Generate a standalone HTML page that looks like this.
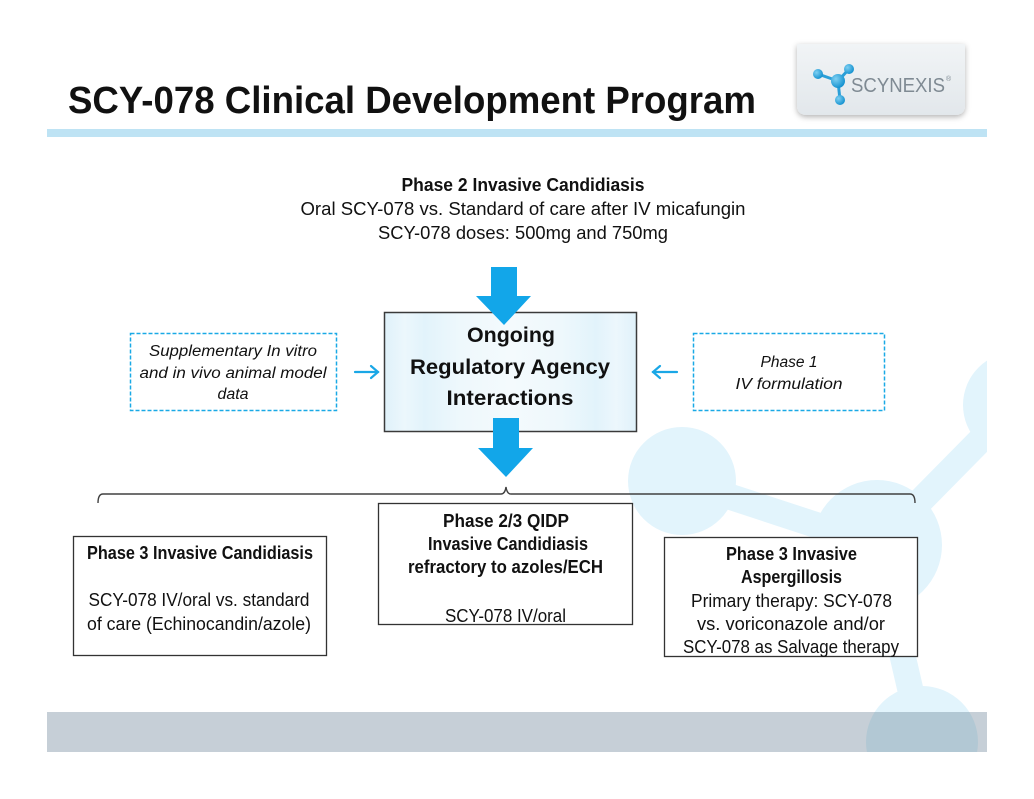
<!DOCTYPE html>
<html><head><meta charset="utf-8"><style>
html,body{margin:0;padding:0;background:#fff;}
svg{display:block;}
text{font-family:"Liberation Sans",Arial,sans-serif;fill:#111;}
.b{font-weight:bold;}
.i{font-style:italic;}
</style></head><body>
<svg width="1034" height="799" viewBox="0 0 1034 799" xmlns="http://www.w3.org/2000/svg">
<defs>
<clipPath id="slide"><rect x="47" y="0" width="940" height="752"/></clipPath>
<clipPath id="band"><rect x="47" y="712" width="940" height="40"/></clipPath>
<linearGradient id="cb" x1="0" x2="1" y1="0" y2="0">
<stop offset="0" stop-color="#dff1fa"/><stop offset="0.08" stop-color="#ecf7fc"/>
<stop offset="0.16" stop-color="#e2f3fb"/><stop offset="0.3" stop-color="#eef8fc"/>
<stop offset="0.5" stop-color="#f4fafd"/><stop offset="0.7" stop-color="#eef8fc"/>
<stop offset="0.84" stop-color="#e2f3fb"/><stop offset="0.92" stop-color="#ecf7fc"/>
<stop offset="1" stop-color="#dff1fa"/></linearGradient>
<linearGradient id="lg" x1="0" x2="0" y1="0" y2="1">
<stop offset="0" stop-color="#f1f4f6"/><stop offset="1" stop-color="#e2e7eb"/></linearGradient>
<radialGradient id="ball" cx="0.35" cy="0.35" r="0.7">
<stop offset="0" stop-color="#7fd0f2"/><stop offset="1" stop-color="#1190cf"/></radialGradient>
<filter id="sh" x="-20%" y="-20%" width="140%" height="160%"><feDropShadow dx="0" dy="2" stdDeviation="3" flood-color="#000" flood-opacity="0.3"/></filter>
</defs>

<!-- background molecule -->
<g clip-path="url(#slide)" fill="#e2f4fc" stroke="#e2f4fc">
<line x1="682" y1="481" x2="877" y2="545" stroke-width="26"/>
<line x1="1015" y1="405" x2="877" y2="545" stroke-width="26"/>
<line x1="877" y1="545" x2="922" y2="740" stroke-width="26"/>
<circle cx="682" cy="481" r="54" stroke="none"/>
<circle cx="877" cy="545" r="65" stroke="none"/>
<circle cx="1016" cy="405" r="53" stroke="none"/>
<circle cx="922" cy="742" r="56" stroke="none"/>
</g>
<!-- bottom band -->
<rect x="47" y="712" width="940" height="40" fill="#c6cfd7"/>
<g clip-path="url(#band)" fill="#b2c8d4">
<circle cx="922" cy="742" r="56"/>
</g>

<!-- title -->
<text x="68" y="113" class="b" font-size="38" textLength="688" lengthAdjust="spacingAndGlyphs">SCY-078 Clinical Development Program</text>
<rect x="47" y="129" width="940" height="8" fill="#bee3f4"/>

<!-- logo -->
<path d="M797,44 H965 V105 Q965,115 955,115 H807 Q797,115 797,105 Z" fill="url(#lg)" filter="url(#sh)"/>
<g stroke="#2a9fd8" stroke-width="3">
<line x1="818" y1="74" x2="838" y2="81"/><line x1="849" y1="69" x2="838" y2="81"/><line x1="840" y1="100" x2="838" y2="81"/>
</g>
<circle cx="838" cy="81" r="7" fill="url(#ball)"/>
<circle cx="818" cy="74" r="5" fill="url(#ball)"/>
<circle cx="849" cy="69" r="5" fill="url(#ball)"/>
<circle cx="840" cy="100" r="5" fill="url(#ball)"/>
<text x="851" y="92" font-size="20" style="fill:#7f8a93" textLength="94" lengthAdjust="spacingAndGlyphs">SCYNEXIS</text>
<text x="946" y="81" font-size="7" style="fill:#7f8a93">®</text>

<!-- top text -->
<text x="523" y="191" class="b" font-size="18" text-anchor="middle" textLength="243" lengthAdjust="spacingAndGlyphs">Phase 2 Invasive Candidiasis</text>
<text x="523" y="215" font-size="18" text-anchor="middle" textLength="445" lengthAdjust="spacingAndGlyphs">Oral SCY-078 vs. Standard of care after IV micafungin</text>
<text x="523" y="239" font-size="18" text-anchor="middle" textLength="290" lengthAdjust="spacingAndGlyphs">SCY-078 doses: 500mg and 750mg</text>

<!-- center box -->
<rect x="384.5" y="312.5" width="252" height="119" fill="url(#cb)" stroke="#3a3a3a" stroke-width="1.5"/>
<text x="511" y="342" class="b" font-size="21" text-anchor="middle" textLength="88" lengthAdjust="spacingAndGlyphs">Ongoing</text>
<text x="510" y="374" class="b" font-size="21" text-anchor="middle" textLength="200" lengthAdjust="spacingAndGlyphs">Regulatory Agency</text>
<text x="510" y="405" class="b" font-size="21" text-anchor="middle" textLength="127" lengthAdjust="spacingAndGlyphs">Interactions</text>

<!-- big arrows -->
<polygon points="491,267 517,267 517,296 531,296 504,325 476,296 491,296" fill="#12a6e9"/>
<polygon points="493,418 519,418 519,448 533,448 506,477 478,448 493,448" fill="#12a6e9"/>

<!-- dashed boxes -->
<rect x="130.5" y="333.5" width="206" height="77" fill="#fff" stroke="#1aa9e6" stroke-width="1.5" stroke-dasharray="4,2"/>
<text x="233" y="356" class="i" font-size="15.5" text-anchor="middle" textLength="168" lengthAdjust="spacingAndGlyphs">Supplementary In vitro</text>
<text x="233" y="378" class="i" font-size="15.5" text-anchor="middle" textLength="187" lengthAdjust="spacingAndGlyphs">and in vivo animal model</text>
<text x="233" y="399" class="i" font-size="15.5" text-anchor="middle" textLength="31" lengthAdjust="spacingAndGlyphs">data</text>

<rect x="693.5" y="333.5" width="191" height="77" fill="#fff" stroke="#1aa9e6" stroke-width="1.5" stroke-dasharray="4,2"/>
<text x="789" y="367" class="i" font-size="15.5" text-anchor="middle" textLength="57" lengthAdjust="spacingAndGlyphs">Phase 1</text>
<text x="789" y="389" class="i" font-size="15.5" text-anchor="middle" textLength="107" lengthAdjust="spacingAndGlyphs">IV formulation</text>

<!-- small arrows -->
<g stroke="#1aa7e6" stroke-width="2.2" fill="none" stroke-linecap="round">
<line x1="355" y1="372" x2="378" y2="372"/><polyline points="371,366 378,372 371,378"/>
<line x1="653" y1="372" x2="677" y2="372"/><polyline points="660,366 653,372 660,378"/>
</g>

<!-- bracket -->
<path d="M98,503 Q98,494 103,494 L501,494 Q505,494 506,487 Q507,494 511,494 L910,494 Q915,494 915,503" fill="none" stroke="#404040" stroke-width="1.4"/>

<!-- bottom boxes -->
<rect x="73.5" y="536.5" width="253" height="119" fill="#fff" stroke="#333" stroke-width="1.3"/>
<text x="200" y="559" class="b" font-size="18" text-anchor="middle" textLength="226" lengthAdjust="spacingAndGlyphs">Phase 3 Invasive Candidiasis</text>
<text x="199" y="606" font-size="18" text-anchor="middle" textLength="221" lengthAdjust="spacingAndGlyphs">SCY-078 IV/oral vs. standard</text>
<text x="199" y="630" font-size="18" text-anchor="middle" textLength="224" lengthAdjust="spacingAndGlyphs">of care (Echinocandin/azole)</text>

<rect x="378.5" y="503.5" width="254" height="121" fill="#fff" stroke="#333" stroke-width="1.3"/>
<text x="506" y="527" class="b" font-size="18" text-anchor="middle" textLength="126" lengthAdjust="spacingAndGlyphs">Phase 2/3 QIDP</text>
<text x="508" y="550" class="b" font-size="18" text-anchor="middle" textLength="160" lengthAdjust="spacingAndGlyphs">Invasive Candidiasis</text>
<text x="505.5" y="573" class="b" font-size="18" text-anchor="middle" textLength="195" lengthAdjust="spacingAndGlyphs">refractory to azoles/ECH</text>
<text x="505.5" y="622" font-size="18" text-anchor="middle" textLength="121" lengthAdjust="spacingAndGlyphs">SCY-078 IV/oral</text>

<rect x="664.5" y="537.5" width="253" height="119" fill="#fff" stroke="#333" stroke-width="1.3"/>
<text x="791.5" y="560" class="b" font-size="18" text-anchor="middle" textLength="131" lengthAdjust="spacingAndGlyphs">Phase 3 Invasive</text>
<text x="791.5" y="583" class="b" font-size="18" text-anchor="middle" textLength="101" lengthAdjust="spacingAndGlyphs">Aspergillosis</text>
<text x="791.5" y="607" font-size="18" text-anchor="middle" textLength="201" lengthAdjust="spacingAndGlyphs">Primary therapy: SCY-078</text>
<text x="791" y="630" font-size="18" text-anchor="middle" textLength="188" lengthAdjust="spacingAndGlyphs">vs. voriconazole  and/or</text>
<text x="791" y="653" font-size="18" text-anchor="middle" textLength="216" lengthAdjust="spacingAndGlyphs">SCY-078 as Salvage therapy</text>
</svg>
</body></html>
